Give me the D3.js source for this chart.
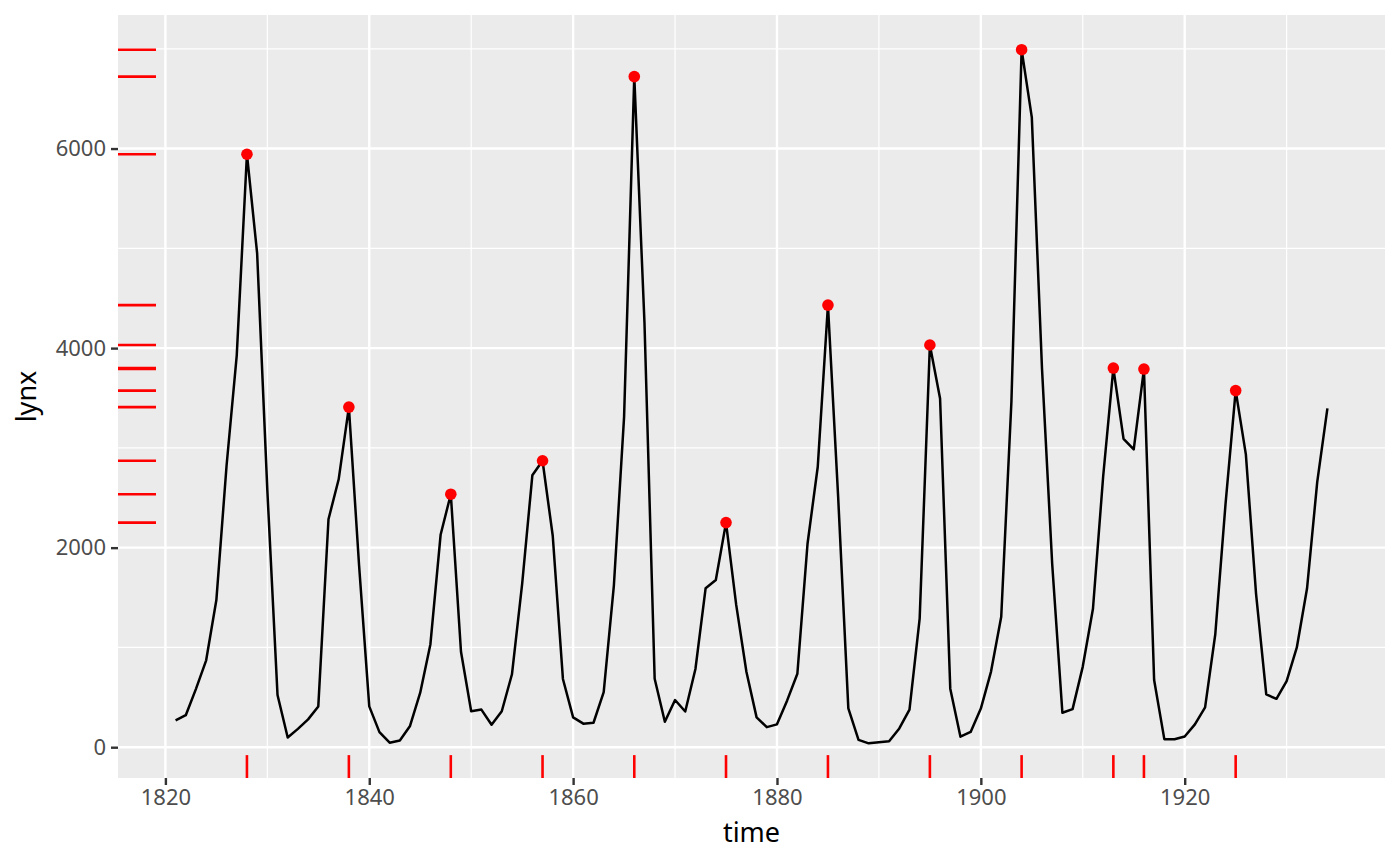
<!DOCTYPE html>
<html>
<head>
<meta charset="utf-8">
<script src="https://cdn.jsdelivr.net/npm/d3@7"></script>
<style>
  body { margin: 0; background: #fff; }
  svg { font-family: "Noto Sans", "Open Sans", sans-serif; display: block; }
</style>
</head>
<body>
<script>
// annual lynx trappings, 1821-1934
const startYear = 1821
const lynx = [269, 321, 585, 871, 1475, 2821, 3928, 5943, 4950, 2577, 523, 98, 184, 279, 409,
  2285, 2685, 3409, 1824, 409, 151, 45, 68, 213, 546, 1033, 2129, 2536, 957, 361, 377, 225,
  360, 731, 1638, 2725, 2871, 2119, 684, 299, 236, 245, 552, 1623, 3311, 6721, 4254, 687, 255,
  473, 358, 784, 1594, 1676, 2251, 1426, 756, 299, 201, 229, 469, 736, 2042, 2811, 4431, 2511,
  389, 73, 39, 49, 59, 188, 377, 1292, 4031, 3495, 587, 105, 153, 387, 758, 1307, 3465, 6991,
  6313, 3794, 1836, 345, 382, 808, 1388, 2713, 3800, 3091, 2985, 3790, 674, 81, 80, 108, 229,
  399, 1132, 2432, 3574, 2935, 1537, 529, 485, 662, 1000, 1590, 2657, 3396]
const peakYears = [1828, 1838, 1848, 1857, 1866, 1875, 1885, 1895, 1904, 1913, 1916, 1925]

const xMajor = [1820, 1840, 1860, 1880, 1900, 1920]
const xMinor = [1810, 1830, 1850, 1870, 1890, 1910, 1930]
const yMajor = [0, 2000, 4000, 6000]
const yMinor = [1000, 3000, 5000, 7000]

const data = lynx.map((v, i) => ({ year: startYear + i, value: v }))
const peaks = data.filter(d => peakYears.includes(d.year))

const W = 1400, H = 866
const pLeft = 118, pRight = 1385, pTop = 15, pBottom = 778

const svg = d3.select('body').append('svg').attr('width', W).attr('height', H)

// ggplot-style 5% expansion
const xExt = d3.extent(data, d => d.year)
const yExt = d3.extent(data, d => d.value)
const xPad = (xExt[1] - xExt[0]) * 0.05
const yPad = (yExt[1] - yExt[0]) * 0.05
const x = d3.scaleLinear().domain([xExt[0] - xPad, xExt[1] + xPad]).range([pLeft, pRight])
const y = d3.scaleLinear().domain([yExt[0] - yPad, yExt[1] + yPad]).range([pBottom, pTop])

svg.append('rect').attr('x', pLeft).attr('y', pTop)
  .attr('width', pRight - pLeft).attr('height', pBottom - pTop).attr('fill', '#EBEBEB')

const grid = svg.append('g').attr('stroke', '#fff')
grid.selectAll('line.ymin').data(yMinor).enter().append('line')
  .attr('x1', pLeft).attr('x2', pRight).attr('y1', d => y(d)).attr('y2', d => y(d)).attr('stroke-width', 1.2)
grid.selectAll('line.xmin').data(xMinor.filter(d => x(d) > pLeft && x(d) < pRight)).enter().append('line')
  .attr('y1', pTop).attr('y2', pBottom).attr('x1', d => x(d)).attr('x2', d => x(d)).attr('stroke-width', 1.2)
grid.selectAll('line.ymaj').data(yMajor).enter().append('line')
  .attr('x1', pLeft).attr('x2', pRight).attr('y1', d => y(d)).attr('y2', d => y(d)).attr('stroke-width', 2.4)
grid.selectAll('line.xmaj').data(xMajor).enter().append('line')
  .attr('y1', pTop).attr('y2', pBottom).attr('x1', d => x(d)).attr('x2', d => x(d)).attr('stroke-width', 2.4)

// line
const line = d3.line().x(d => x(d.year)).y(d => y(d.value))
svg.append('path').datum(data).attr('d', line)
  .attr('fill', 'none').attr('stroke', '#000').attr('stroke-width', 2.5)
  .attr('stroke-linejoin', 'round')

// rugs (3% of panel)
const rugX = (pRight - pLeft) * 0.03
const rugY = (pBottom - pTop) * 0.03
svg.append('g').selectAll('line').data(peaks).enter().append('line')
  .attr('x1', d => x(d.year)).attr('x2', d => x(d.year))
  .attr('y1', pBottom).attr('y2', pBottom - rugY)
  .attr('stroke', 'red').attr('stroke-width', 2.6)
svg.append('g').selectAll('line').data(peaks).enter().append('line')
  .attr('y1', d => y(d.value)).attr('y2', d => y(d.value))
  .attr('x1', pLeft).attr('x2', pLeft + rugX)
  .attr('stroke', 'red').attr('stroke-width', 2.6)

// peak points
svg.append('g').selectAll('circle').data(peaks).enter().append('circle')
  .attr('cx', d => x(d.year)).attr('cy', d => y(d.value)).attr('r', 5.8).attr('fill', 'red')

// axes
const axisX = d3.axisBottom(x).tickValues(xMajor).tickFormat(d3.format('d')).tickSize(7).tickPadding(4)
const axisY = d3.axisLeft(y).tickValues(yMajor).tickFormat(d3.format('d')).tickSize(7).tickPadding(5)

const gx = svg.append('g').attr('transform', `translate(0,${pBottom})`).call(axisX)
const gy = svg.append('g').attr('transform', `translate(${pLeft},0)`).call(axisY)
;[gx, gy].forEach(g => {
  g.select('.domain').remove()
  g.selectAll('.tick line').attr('stroke', '#333').attr('stroke-width', 2.4)
  g.selectAll('.tick text').attr('fill', '#4D4D4D').style('font-size', '22px')
    .style('font-family', '"Noto Sans", "Open Sans", sans-serif')
})

svg.append('text').attr('x', (pLeft + pRight) / 2).attr('y', 842)
  .attr('text-anchor', 'middle').style('font-size', '27px').attr('fill', '#000').text('time')
svg.append('text').attr('transform', `translate(36,${(pTop + pBottom) / 2}) rotate(-90)`)
  .attr('text-anchor', 'middle').style('font-size', '27px').attr('fill', '#000').text('lynx')
</script>
</body>
</html>
